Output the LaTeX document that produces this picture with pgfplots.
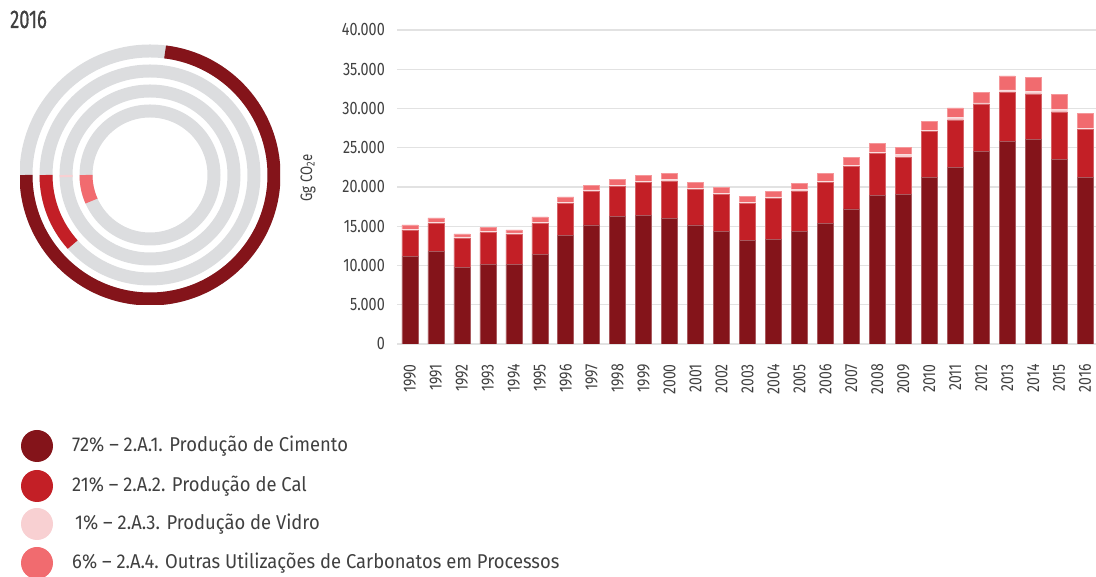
\documentclass[border=0pt]{standalone}
\usepackage{pgfplots}
\usepackage{pgfplotstable}
\pgfplotsset{compat=1.18}
\usepackage{fontspec}
\setmainfont{Fira Sans}[FakeStretch=0.92]
\newfontfamily\tickfont{Fira Sans}[FakeStretch=0.8]
\newfontfamily\titlefont{Fira Sans}[FakeStretch=0.72,FakeBold=0.6]
\definecolor{cCim}{HTML}{84141A}
\definecolor{cCal}{HTML}{C31F26}
\definecolor{cVid}{HTML}{F8D0D2}
\definecolor{cOut}{HTML}{F16B6F}
\definecolor{cRing}{HTML}{DCDDDF}
\definecolor{cTxt}{HTML}{404040}
\definecolor{cGrd}{HTML}{E2E2E2}
\pgfplotstableread{
idx cim cal vid out
0 11186 3304 128 550
1 11779 3559 169 551
2 9787 3687 169 381
3 10126 4068 127 509
4 10126 3856 170 381
5 11440 3898 169 678
6 13855 4025 170 678
7 15168 4280 169 636
8 16228 3855 128 720
9 16397 4195 169 678
10 16016 4745 170 847
11 15168 4576 127 763
12 14363 4661 170 720
13 13177 4703 170 720
14 13347 5211 169 721
15 14363 5042 297 720
16 15380 5169 170 1059
17 17202 5381 170 1059
18 18939 5339 169 1060
19 19066 4746 296 890
20 21227 5805 170 1186
21 22498 6059 297 1229
22 24532 6059 127 1356
23 25803 6271 297 1779
24 26058 5804 297 1822
25 23515 6059 297 1907
26 21185 6144 170 1906
}\datatab
\begin{document}
\begin{tikzpicture}[x=1pt,y=1pt]
\useasboundingbox (0,0) rectangle (1096,577);
% bar chart
\begin{axis}[at={(397pt,233pt)}, anchor=south west, scale only axis,
  width=699pt, height=314pt,
  xmin=-0.5, xmax=26.42, ymin=0, ymax=40000,
  ybar stacked, bar width=16pt,
  axis line style={draw=none}, major tick style={draw=none},
  ymajorgrids, grid style={line width=1.3pt, cGrd},
  ytick={0,5000,...,40000},
  xtick={0,...,26},
  xticklabels={1990,1991,1992,1993,1994,1995,1996,1997,1998,1999,2000,2001,2002,2003,2004,2005,2006,2007,2008,2009,2010,2011,2012,2013,2014,2015,2016},
  /pgf/number format/.cd, 1000 sep={.}, assume math mode=true,
  /pgfplots/.cd,
  scaled y ticks=false,
  yticklabel style={font=\tickfont\fontsize{18}{18}\selectfont, text=cTxt, anchor=east, inner sep=0pt, xshift=-12pt},
  xticklabel style={font=\tickfont\fontsize{17.5}{17.5}\selectfont, text=cTxt, rotate=90, anchor=east, inner sep=0pt, xshift=-20pt},
]
\addplot[fill=cCim, draw=cCim!70!white, line width=0.6pt] table[x=idx,y=cim]{\datatab};
\addplot[fill=cCal, draw=cCal!70!white, line width=0.6pt] table[x=idx,y=cal]{\datatab};
\addplot[fill=cVid, draw=cVid!70!white, line width=0.6pt] table[x=idx,y=vid]{\datatab};
\addplot[fill=cOut, draw=cOut!70!white, line width=0.6pt] table[x=idx,y=out]{\datatab};
\end{axis}
\node[rotate=90, font=\tickfont\fontsize{16.5}{16.5}\selectfont, text=cTxt, inner sep=0pt] at (308,399) {Gg CO\textsubscript{2}e};
% rings
\begin{axis}[at={(150pt,402pt)}, anchor=center, scale only axis,
  width=260pt, height=260pt, xmin=-1, xmax=1, ymin=-1, ymax=1, hide axis]
\draw[line width=13pt, cRing] (axis cs:0,0) circle[radius=124pt];
\draw[line width=13pt, cRing] (axis cs:0,0) circle[radius=104pt];
\draw[line width=13pt, cRing] (axis cs:0,0) circle[radius=84pt];
\draw[line width=13pt, cRing] (axis cs:0,0) circle[radius=64pt];
\draw[line width=13pt, cCim] (axis cs:-0.953846,0) arc[start angle=180, end angle=443, radius=124pt];
\draw[line width=13pt, cCal] (axis cs:-0.8,0) arc[start angle=180, end angle=222, radius=104pt];
\draw[line width=13pt, cVid] (axis cs:-0.646154,0) arc[start angle=180, end angle=181.5, radius=84pt];
\draw[line width=13pt, cOut] (axis cs:-0.492308,0) arc[start angle=180, end angle=204, radius=64pt];
\end{axis}
% title
\node[anchor=base west, inner sep=0pt, text=cTxt, font=\titlefont\fontsize{25.5}{25.5}\selectfont] at (10,549) {2016};
% legend
\fill[cCim] (37,131) circle[radius=16];
\fill[cCal] (37,91) circle[radius=16];
\fill[cVid] (37,53) circle[radius=16];
\fill[cOut] (37,14) circle[radius=16];
\begin{scope}[every node/.style={anchor=west, inner sep=0pt, text=cTxt, font=\fontsize{20}{20}\selectfont}]
\node at (72,131) {72\% – 2.A.1. Produção de Cimento};
\node at (72,91) {21\% – 2.A.2. Produção de Cal};
\node at (75,53) {1\% – 2.A.3. Produção de Vidro};
\node at (72,14) {6\% – 2.A.4. Outras Utilizações de Carbonatos em Processos};
\end{scope}
\end{tikzpicture}
\end{document}
